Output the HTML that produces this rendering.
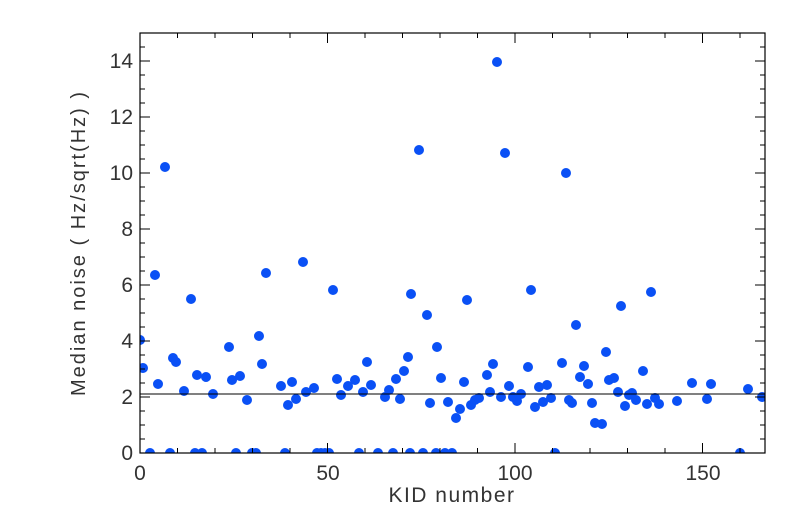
<!DOCTYPE html>
<html><head><style>body{margin:0;background:#fff}svg{display:block}</style></head><body>
<svg width="805" height="522" xmlns="http://www.w3.org/2000/svg" font-family="Liberation Sans, sans-serif">
<defs><clipPath id="c"><rect x="140" y="33" width="625" height="420"/></clipPath></defs>
<g clip-path="url(#c)" fill="#0a50f5">
<circle cx="140" cy="340" r="5"/><circle cx="143" cy="368" r="5"/><circle cx="150" cy="453" r="5"/><circle cx="155" cy="275" r="5"/><circle cx="158" cy="384" r="5"/><circle cx="165" cy="167" r="5"/><circle cx="170" cy="453" r="5"/><circle cx="173" cy="358" r="5"/><circle cx="176" cy="362" r="5"/><circle cx="184" cy="391" r="5"/><circle cx="191" cy="299" r="5"/><circle cx="195" cy="453" r="5"/><circle cx="197" cy="375" r="5"/><circle cx="202" cy="453" r="5"/><circle cx="206" cy="377" r="5"/><circle cx="213" cy="394" r="5"/><circle cx="229" cy="347" r="5"/><circle cx="232" cy="380" r="5"/><circle cx="236" cy="453" r="5"/><circle cx="240" cy="376" r="5"/><circle cx="247" cy="400" r="5"/><circle cx="252" cy="453" r="5"/><circle cx="256" cy="453" r="5"/><circle cx="259" cy="336" r="5"/><circle cx="262" cy="364" r="5"/><circle cx="266" cy="273" r="5"/><circle cx="281" cy="386" r="5"/><circle cx="285" cy="453" r="5"/><circle cx="288" cy="405" r="5"/><circle cx="292" cy="382" r="5"/><circle cx="296" cy="399" r="5"/><circle cx="303" cy="262" r="5"/><circle cx="306" cy="392" r="5"/><circle cx="314" cy="388" r="5"/><circle cx="317" cy="453" r="5"/><circle cx="321" cy="453" r="5"/><circle cx="325" cy="453" r="5"/><circle cx="329" cy="453" r="5"/><circle cx="333" cy="290" r="5"/><circle cx="337" cy="379" r="5"/><circle cx="341" cy="395" r="5"/><circle cx="348" cy="386" r="5"/><circle cx="355" cy="380" r="5"/><circle cx="359" cy="453" r="5"/><circle cx="363" cy="392" r="5"/><circle cx="367" cy="362" r="5"/><circle cx="371" cy="385" r="5"/><circle cx="378" cy="453" r="5"/><circle cx="385" cy="397" r="5"/><circle cx="389" cy="390" r="5"/><circle cx="393" cy="453" r="5"/><circle cx="396" cy="379" r="5"/><circle cx="400" cy="399" r="5"/><circle cx="404" cy="371" r="5"/><circle cx="408" cy="357" r="5"/><circle cx="410" cy="453" r="5"/><circle cx="411" cy="294" r="5"/><circle cx="419" cy="150" r="5"/><circle cx="423" cy="453" r="5"/><circle cx="427" cy="315" r="5"/><circle cx="430" cy="403" r="5"/><circle cx="436" cy="453" r="5"/><circle cx="437" cy="347" r="5"/><circle cx="441" cy="378" r="5"/><circle cx="445" cy="453" r="5"/><circle cx="448" cy="402" r="5"/><circle cx="452" cy="453" r="5"/><circle cx="456" cy="418" r="5"/><circle cx="460" cy="409" r="5"/><circle cx="464" cy="382" r="5"/><circle cx="467" cy="300" r="5"/><circle cx="471" cy="405" r="5"/><circle cx="475" cy="400" r="5"/><circle cx="479" cy="398" r="5"/><circle cx="487" cy="375" r="5"/><circle cx="490" cy="392" r="5"/><circle cx="493" cy="364" r="5"/><circle cx="497" cy="62" r="5"/><circle cx="501" cy="397" r="5"/><circle cx="505" cy="153" r="5"/><circle cx="509" cy="386" r="5"/><circle cx="513" cy="397" r="5"/><circle cx="517" cy="401" r="5"/><circle cx="521" cy="394" r="5"/><circle cx="528" cy="367" r="5"/><circle cx="531" cy="290" r="5"/><circle cx="535" cy="407" r="5"/><circle cx="539" cy="387" r="5"/><circle cx="543" cy="402" r="5"/><circle cx="547" cy="385" r="5"/><circle cx="551" cy="398" r="5"/><circle cx="555" cy="453" r="5"/><circle cx="562" cy="363" r="5"/><circle cx="566" cy="173" r="5"/><circle cx="569" cy="400" r="5"/><circle cx="572" cy="403" r="5"/><circle cx="576" cy="325" r="5"/><circle cx="580" cy="377" r="5"/><circle cx="584" cy="366" r="5"/><circle cx="588" cy="384" r="5"/><circle cx="592" cy="403" r="5"/><circle cx="595" cy="423" r="5"/><circle cx="602" cy="424" r="5"/><circle cx="606" cy="352" r="5"/><circle cx="609" cy="380" r="5"/><circle cx="614" cy="378" r="5"/><circle cx="618" cy="392" r="5"/><circle cx="621" cy="306" r="5"/><circle cx="625" cy="406" r="5"/><circle cx="629" cy="395" r="5"/><circle cx="632" cy="393" r="5"/><circle cx="636" cy="400" r="5"/><circle cx="643" cy="371" r="5"/><circle cx="647" cy="404" r="5"/><circle cx="651" cy="292" r="5"/><circle cx="655" cy="398" r="5"/><circle cx="659" cy="404" r="5"/><circle cx="677" cy="401" r="5"/><circle cx="692" cy="383" r="5"/><circle cx="707" cy="399" r="5"/><circle cx="711" cy="384" r="5"/><circle cx="740" cy="453" r="5"/><circle cx="748" cy="389" r="5"/><circle cx="762" cy="397" r="5"/>
</g>
<line x1="140" y1="394" x2="765" y2="394" stroke="#000" stroke-width="1"/>
<rect x="140" y="33" width="625" height="420" fill="none" stroke="#000" stroke-width="1.2"/>
<path stroke="#000" stroke-width="1" fill="none" d="M140 453v-10M177.5 453v-5M215 453v-5M252.5 453v-5M290 453v-5M327.5 453v-10M365 453v-5M402.5 453v-5M440 453v-5M477.5 453v-5M515 453v-10M552.5 453v-5M590 453v-5M627.5 453v-5M665 453v-5M702.5 453v-10M740 453v-5
M140 33v10M177.5 33v5M215 33v5M252.5 33v5M290 33v5M327.5 33v10M365 33v5M402.5 33v5M440 33v5M477.5 33v5M515 33v10M552.5 33v5M590 33v5M627.5 33v5M665 33v5M702.5 33v10M740 33v5
M140 453h10M140 439h5M140 425h5M140 411h5M140 397h10M140 383h5M140 369h5M140 355h5M140 341h10M140 327h5M140 313h5M140 299h5M140 285h10M140 271h5M140 257h5M140 243h5M140 229h10M140 215h5M140 201h5M140 187h5M140 173h10M140 159h5M140 145h5M140 131h5M140 117h10M140 103h5M140 89h5M140 75h5M140 61h10M140 47h5
M765 453h-10M765 439h-5M765 425h-5M765 411h-5M765 397h-10M765 383h-5M765 369h-5M765 355h-5M765 341h-10M765 327h-5M765 313h-5M765 299h-5M765 285h-10M765 271h-5M765 257h-5M765 243h-5M765 229h-10M765 215h-5M765 201h-5M765 187h-5M765 173h-10M765 159h-5M765 145h-5M765 131h-5M765 117h-10M765 103h-5M765 89h-5M765 75h-5M765 61h-10M765 47h-5"/>
<g fill="#333" font-size="21" text-anchor="middle">
<text x="140" y="480">0</text><text x="328" y="480">50</text><text x="515" y="480">100</text><text x="703" y="480">150</text>
<text x="452" y="502" letter-spacing="1.5">KID number</text>
</g>
<g fill="#333" font-size="21" text-anchor="end">
<text x="133" y="460">0</text><text x="133" y="404">2</text><text x="133" y="348">4</text><text x="133" y="292">6</text><text x="133" y="236">8</text><text x="133" y="180">10</text><text x="133" y="124">12</text><text x="133" y="68">14</text>
</g>
<text transform="translate(85,243) rotate(-90)" font-size="20" text-anchor="middle" fill="#333" letter-spacing="2">Median noise ( Hz/sqrt(Hz) )</text>
</svg>
</body></html>
